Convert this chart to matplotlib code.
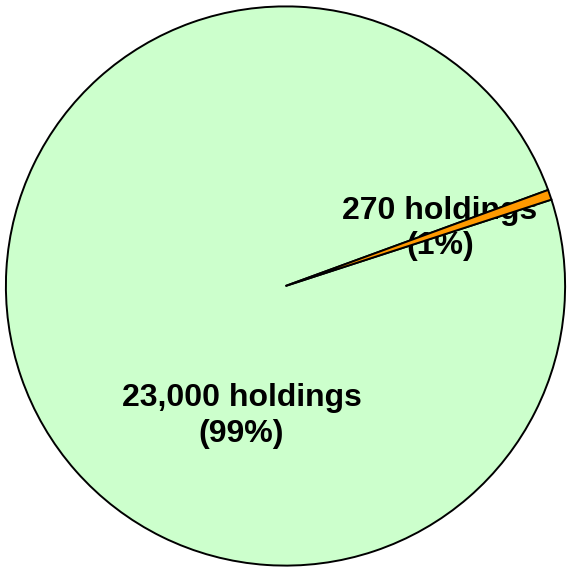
import matplotlib
matplotlib.use('Agg')
import matplotlib.pyplot as plt

# slice sizes (percent of circle)
categories = ['Large holdings', 'Small holdings']
slice_shares = [0.58, 99.42]
label_texts = ['270 holdings\n(1%)', '23,000 holdings\n(99%)']
label_pos = [(0.553, 0.205), (-0.157, -0.465)]
colors = ['#FF9900', '#CCFFCC']

plt.rcParams['font.family'] = ['Liberation Sans', 'DejaVu Sans']

fig = plt.figure(figsize=(5.69, 5.70), dpi=100)
ax = fig.add_axes([4.5 / 569, 3 / 570, 562 / 569, 562 / 570])

wedges, _ = ax.pie(slice_shares, colors=colors, startangle=18.0, counterclock=True,
                   radius=1.0, center=(0, 0), frame=False,
                   wedgeprops=dict(edgecolor='black', linewidth=1.4))
# green wedge under the labels, orange wedge over them
wedges[1].set_zorder(1)
wedges[0].set_zorder(3)

for txt, (x, y) in zip(label_texts, label_pos):
    ax.text(x, y, txt, ha='center', va='center', fontsize=23, fontweight='bold',
            linespacing=1.22, zorder=2)

ax.set_xlim(-1.005, 1.005)
ax.set_ylim(-1.005, 1.005)
ax.set_aspect('auto')
ax.axis('off')

fig.savefig('out.png', dpi=100)
